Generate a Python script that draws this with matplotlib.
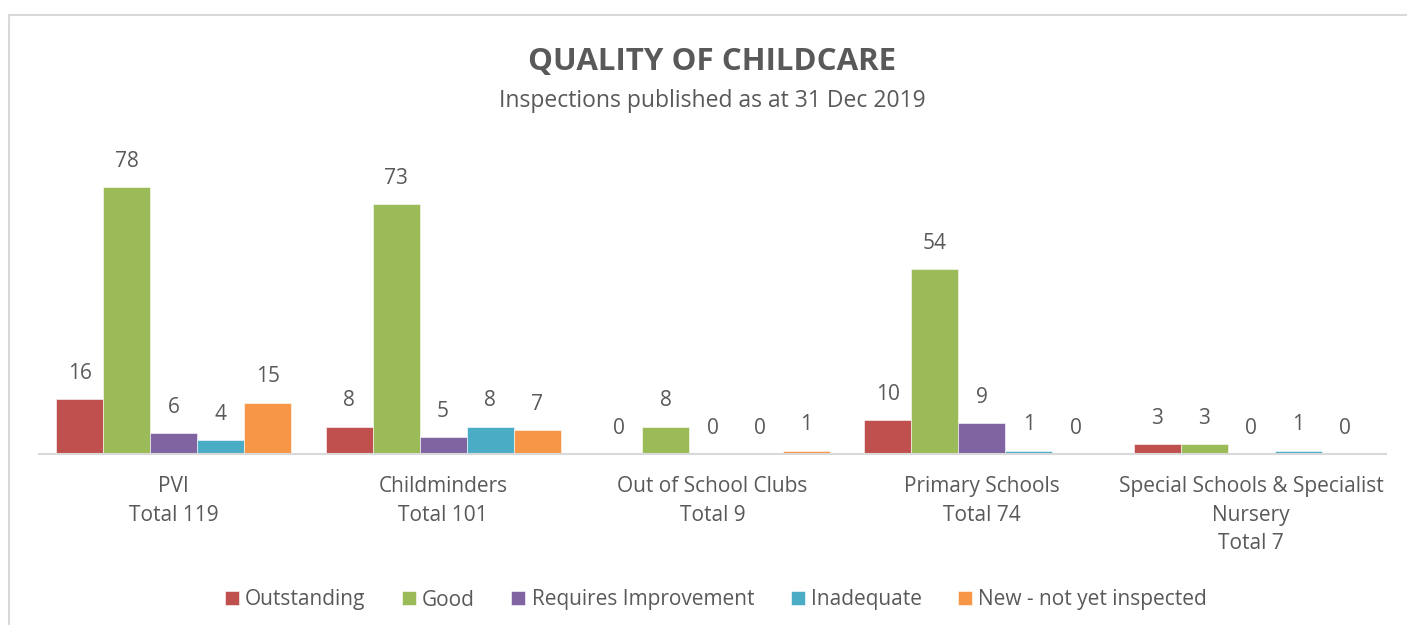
import numpy as np
import matplotlib.pyplot as plt
from matplotlib.patches import Rectangle

# data
categories = ["PVI\nTotal 119", "Childminders\nTotal 101", "Out of School Clubs\nTotal 9",
              "Primary Schools\nTotal 74", "Special Schools & Specialist\nNursery\nTotal 7"]
series = ["Outstanding", "Good", "Requires Improvement", "Inadequate", "New - not yet inspected"]
outstanding = [16, 8, 0, 10, 3]
good = [78, 73, 8, 54, 3]
requires_improvement = [6, 5, 0, 9, 0]
inadequate = [4, 8, 0, 1, 1]
new_not_inspected = [15, 7, 1, 0, 0]
colors = ["#C0504D", "#9BBB59", "#8064A2", "#4BACC6", "#F79646"]

values = [outstanding, good, requires_improvement, inadequate, new_not_inspected]
txt = "#595959"
plt.rcParams['font.family'] = ['Open Sans', 'DejaVu Sans']

W, H = 1407, 625
fig = plt.figure(figsize=(W / 100, H / 100), dpi=100)
ax = fig.add_axes([39 / W, 1 - 454 / H, (1386 - 39) / W, 308 / H])

x = np.arange(len(categories))
bw = 47 / 269.4
for j, (name, vals) in enumerate(zip(series, values)):
    pos = x + (j - 2) * bw
    ax.bar(pos, vals, width=bw, color=colors[j], label=name, edgecolor="white", linewidth=0.4)
    for p, v in zip(pos, vals):
        ax.annotate(str(v), (p, v), xytext=(0, 18.5), textcoords="offset points",
                    ha="center", va="center", fontsize=15, color=txt)

ax.set_xlim(-0.5, len(categories) - 0.5)
ax.set_ylim(0, 90)
ax.set_yticks([])
ax.set_xticks(x)
ax.set_xticklabels(categories, fontsize=15, color=txt, linespacing=1.47)
ax.tick_params(axis="x", length=0, pad=16)
for s in ["top", "right", "left"]:
    ax.spines[s].set_visible(False)
ax.spines["bottom"].set_color("#D9D9D9")
ax.spines["bottom"].set_linewidth(1.5)

fig.text(712 / W, 1 - 62 / H, "QUALITY OF CHILDCARE", ha="center", va="center",
         fontsize=22.5, fontweight="bold", color=txt)
fig.text(712 / W, 1 - 101 / H, "Inspections published as at 31 Dec 2019", ha="center", va="center",
         fontsize=16.5, color=txt)

leg = fig.legend(loc="center", bbox_to_anchor=(716 / W, 1 - 600 / H), ncol=5, frameon=False,
                 fontsize=15, handlelength=0.67, handleheight=0.67, handletextpad=0.3,
                 columnspacing=1.75)
for t in leg.get_texts():
    t.set_color(txt)

# chart frame
fig.patches.append(Rectangle((9 / W, -0.2), 1.2, 1.2 - 15 / H, transform=fig.transFigure,
                             fill=False, edgecolor="#D9D9D9", linewidth=1.5))

fig.savefig("out.png", dpi=100)
